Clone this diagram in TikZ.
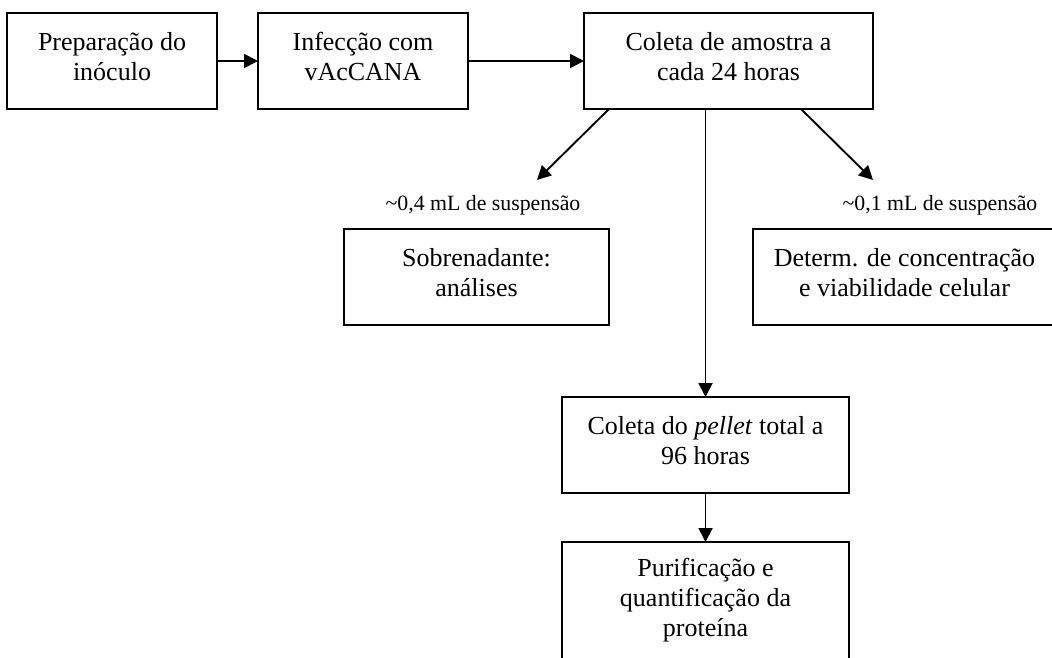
\documentclass[tikz,border=0pt]{standalone}
\usepackage{fontspec}
\setmainfont{Liberation Serif}
\usetikzlibrary{arrows.meta,positioning}

\begin{document}
\begin{tikzpicture}[x=1pt,y=1pt]
    \tikzset{
      block/.style={draw=black,line width=1.9pt,minimum height=96pt,inner sep=0pt,outer sep=0pt,align=center,text depth=10pt,font=\fontsize{26}{30}\selectfont},
      note/.style={inner sep=0pt,font=\fontsize{21.8}{26}\selectfont},
      arrow/.style={-{Triangle[length=14pt,width=14pt]},draw=black,line width=1.9pt}
    }
    \useasboundingbox (0,0) rectangle (1052,-657);
    \clip (0,0) rectangle (1052,-657);
    \node[block,minimum width=210pt] (prep) at (112,-61) {Preparação do\\inóculo};
    \node[block,minimum width=210pt,right=41pt of prep] (infec) {Infecção com\\vAcCANA};
    \node[block,minimum width=289pt,right=116pt of infec] (coleta) {Coleta de amostra a\\cada 24 horas};
    \node[block,minimum width=265pt] (sobren) at (476.5,-277) {Sobrenadante:\\análises};
    \node[block,minimum width=303pt] (determ) at (904.5,-277) {Determ. de concentração\\e viabilidade celular};
    \node[block,minimum width=287pt] (pellet) at (705.5,-445) {Coleta do \textit{pellet} total a\\96 horas};
    \node[block,minimum width=287pt,minimum height=120pt,below=49pt of pellet] (purif) {Purificação e\\quantificação da\\proteína};
    \node[note] (vol04) at (483,-205) {\textasciitilde0,4 mL de suspensão};
    \node[note] (vol01) at (940,-205) {\textasciitilde0,1 mL de suspensão};
    \coordinate (tipL) at (537,-180);
    \coordinate (tipR) at (873,-180);
    \draw[arrow] (prep) -- (infec);
    \draw[arrow] (infec) -- (coleta);
    \draw[arrow] ([xshift=25pt]coleta.south west) -- (tipL);
    \draw[arrow] ([xshift=-72pt]coleta.south east) -- (tipR);
    \draw[arrow] (coleta.south -| pellet.north) -- (pellet.north);
    \draw[arrow] (pellet) -- (purif);
\end{tikzpicture}
\end{document}
